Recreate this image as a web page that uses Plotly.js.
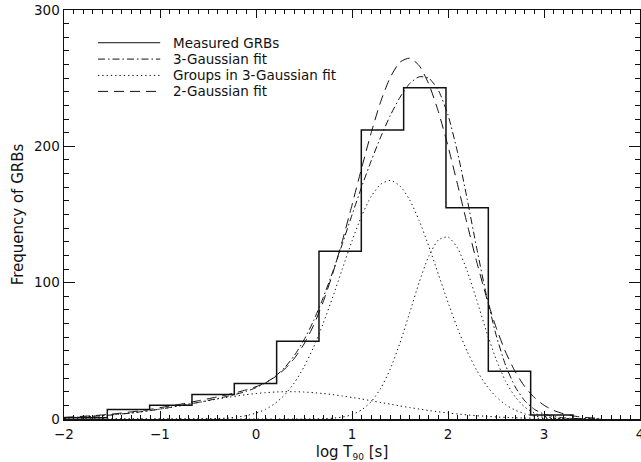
<!DOCTYPE html>
<html>
<head>
<meta charset="utf-8">
<script src="https://cdn.plot.ly/plotly-3.0.1.min.js"></script>
<style>html,body{margin:0;padding:0;background:#fff;}#chart{width:641px;height:462px;}</style>
</head>
<body>
<div id="chart"></div>
<script>
// Histogram of measured GRBs: bin edges (log T90) and counts
const binEdges = [-1.99, -1.549, -1.108, -0.667, -0.226, 0.215, 0.656, 1.097, 1.538, 1.979, 2.420, 2.861, 3.302];
const binCounts = [1, 7, 10, 18, 26, 57, 123, 212, 243, 155, 35, 3];

// Sampling positions of the fitted curves (log T90)
const logT = [-2.0,-1.9,-1.8,-1.7,-1.6,-1.5,-1.4,-1.3,-1.2,-1.1,
              -1.0,-0.9,-0.8,-0.7,-0.6,-0.5,-0.4,-0.3,-0.2,-0.1,
              0.0,0.1,0.2,0.3,0.4,0.5,0.6,0.7,0.8,0.9,
              1.0,1.1,1.2,1.3,1.4,1.5,1.6,1.7,1.8,1.9,
              2.0,2.1,2.2,2.3,2.4,2.5,2.6,2.7,2.8,2.9,
              3.0,3.1,3.2,3.3,3.4,3.5,3.6];

// 3-Gaussian fit (sum)
const fit3 = [0.9,1.2,1.5,2.0,2.4,3.0,3.7,4.4,5.3,6.2,
              7.3,8.4,9.6,10.9,12.2,13.6,15.0,16.6,18.3,20.3,
              23.0,26.5,31.3,37.8,46.6,58.0,72.1,89.0,108.1,128.6,
              149.7,170.2,189.4,207.0,222.8,236.0,246.0,251.0,250.0,241.0,
              223.0,195.4,161.2,125.0,90.9,61.9,39.4,23.6,13.3,7.1,
              3.6,1.8,0.9,0.4,0.2,0.1,0.1];

// Groups in the 3-Gaussian fit
const groupShort = [0.9,1.2,1.5,2.0,2.4,3.0,3.7,4.4,5.3,6.2,
                    7.3,8.4,9.6,10.9,12.1,13.4,14.7,15.8,16.9,17.9,
                    18.7,19.3,19.8,20.0,20.0,19.8,19.3,18.7,17.9,16.9,
                    15.8,14.7,13.4,12.1,10.9,9.6,8.4,7.3,6.2,5.3,
                    4.4,3.7,3.0,2.4,2.0,1.5,1.2,0.9,0.7,0.6,
                    0.4,0.3,0.2,0.2,0.1,0.1,0.1];
const groupMiddle = [0,0,0,0,0,0,0,0,0,0,
                     0,0,0,0,0.1,0.2,0.4,0.7,1.4,2.5,
                     4.3,7.1,11.5,17.8,26.6,38.2,52.7,70.1,89.6,110.3,
                     130.6,148.9,163.3,172.3,175.0,171.0,160.8,145.5,126.7,106.1,
                     85.6,66.4,49.6,35.6,24.6,16.4,10.5,6.5,3.8,2.2,
                     1.2,0.6,0.3,0.2,0.1,0.0,0.0];
const groupLong = [0,0,0,0,0,0,0,0,0,0,
                   0,0,0,0,0,0,0,0,0,0,
                   0,0,0,0,0,0,0.1,0.2,0.6,1.4,
                   3.2,6.7,12.7,22.6,36.9,55.8,77.8,100.3,119.5,131.4,
                   133.5,125.3,108.6,87.0,64.3,44.0,27.7,16.2,8.7,4.3,
                   2.0,0.8,0.3,0.1,0.0,0.0,0.0];

// 2-Gaussian fit
const fit2 = [1.2,1.6,2.0,2.4,3.0,3.6,4.4,5.2,6.1,7.1,
              8.3,9.5,10.7,12.0,13.4,14.8,16.3,17.8,19.5,21.4,
              23.7,26.8,30.9,36.7,44.5,55.0,68.7,86.0,106.8,130.8,
              156.9,184.0,210.0,233.0,250.8,261.8,264.7,259.2,245.7,225.4,
              200.2,171.9,142.9,115.0,89.5,67.4,49.1,34.7,23.7,15.7,
              10.1,6.3,3.9,2.3,1.3,0.8,0.4];

const legendLabels = ['Measured GRBs', '3-Gaussian fit', 'Groups in 3-Gaussian fit', '2-Gaussian fit'];

// Build histogram outline as a step line
const histX = [binEdges[0]].concat(binEdges);
const histY = [0].concat(binCounts).concat([0]);

const DASH = '10px,6px';
const DASHDOT = '7px,3px,1.5px,3px';
const DOT = '1.3px,3px';
const ink = '#111';

const traces = [
  {x: histX, y: histY, mode: 'lines', line: {shape: 'hv', color: ink, width: 1.5}, name: legendLabels[0]},
  {x: logT, y: fit3, mode: 'lines', line: {shape: 'spline', smoothing: 0.6, color: ink, width: 1, dash: DASHDOT}, name: legendLabels[1]},
  {x: logT, y: groupShort, mode: 'lines', line: {shape: 'spline', smoothing: 0.6, color: ink, width: 1, dash: DOT}, name: legendLabels[2]},
  {x: logT, y: groupMiddle, mode: 'lines', line: {shape: 'spline', smoothing: 0.6, color: ink, width: 1, dash: DOT}, name: legendLabels[2], showlegend: false},
  {x: logT, y: groupLong, mode: 'lines', line: {shape: 'spline', smoothing: 0.6, color: ink, width: 1, dash: DOT}, name: legendLabels[2], showlegend: false},
  {x: logT, y: fit2, mode: 'lines', line: {shape: 'spline', smoothing: 0.6, color: ink, width: 1, dash: DASH}, name: legendLabels[3]}
];

// Manual legend (long key lines as in the original)
const rowsY = [0.920, 0.880, 0.840, 0.801];
const dashes = ['solid', DASHDOT, DOT, DASH];
const shapes = rowsY.map((yy, i) => ({
  type: 'line', xref: 'paper', yref: 'paper', x0: 0.059, x1: 0.167, y0: yy, y1: yy,
  line: {color: ink, width: 1, dash: dashes[i]}
}));
const annotations = rowsY.map((yy, i) => ({
  xref: 'paper', yref: 'paper', x: 0.186, y: yy, xanchor: 'left', yanchor: 'middle',
  text: legendLabels[i], showarrow: false, font: {size: 13.5, color: ink}
}));

const layout = {
  width: 641, height: 462,
  margin: {l: 64, r: 1, t: 10, b: 43, pad: 0},
  paper_bgcolor: '#fff', plot_bgcolor: '#fff',
  showlegend: false,
  font: {family: '"DejaVu Sans", sans-serif', size: 13.5, color: ink},
  shapes: shapes,
  annotations: annotations,
  xaxis: {
    range: [-2, 4], tick0: 0, dtick: 1, ticks: 'inside', ticklen: 8, tickwidth: 1, tickcolor: ink,
    showline: true, linecolor: ink, linewidth: 1.5, mirror: 'allticks',
    showgrid: false, zeroline: false, automargin: false,
    ticklabeloverflow: 'allow', ticklabelstandoff: 2,
    minor: {dtick: 0.1, ticks: 'inside', ticklen: 4, tickwidth: 1, tickcolor: ink, showgrid: false},
    title: {text: 'log T<sub><span style="font-size:9px">90</span></sub> [s]', font: {size: 15}, standoff: 8}
  },
  yaxis: {
    range: [0, 300], tick0: 0, dtick: 100, ticks: 'inside', ticklen: 11, tickwidth: 1, tickcolor: ink,
    showline: true, linecolor: ink, linewidth: 1.5, mirror: 'allticks',
    showgrid: false, zeroline: false, automargin: false,
    minor: {dtick: 10, ticks: 'inside', ticklen: 5, tickwidth: 1, tickcolor: ink, showgrid: false},
    title: {text: 'Frequency of GRBs', font: {size: 15}, standoff: 7}
  }
};

Plotly.newPlot('chart', traces, layout, {staticPlot: true, displayModeBar: false});
</script>
</body>
</html>
